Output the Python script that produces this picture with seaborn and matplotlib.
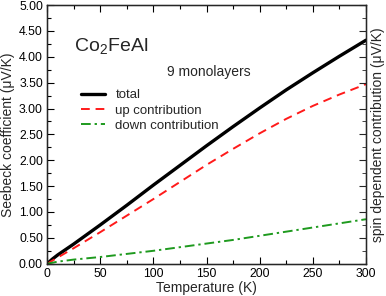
import matplotlib
matplotlib.use('Agg')
import matplotlib.pyplot as plt
import seaborn as sns
import pandas as pd
from matplotlib.ticker import MultipleLocator, FormatStrFormatter

sns.set_style('ticks')
plt.rcParams['font.family'] = ['Liberation Sans', 'DejaVu Sans']
plt.rcParams['mathtext.fontset'] = 'custom'
plt.rcParams['mathtext.rm'] = 'Liberation Sans'

# data
temperature = [0, 5, 10, 25, 50, 75, 100, 125, 150, 175, 200, 225, 250, 275, 300]
total = [0, 0.09, 0.17, 0.38, 0.75, 1.13, 1.52, 1.90, 2.28, 2.65, 3.01, 3.36, 3.69, 4.01, 4.32]
up = [0, 0.06, 0.12, 0.30, 0.61, 0.93, 1.25, 1.58, 1.91, 2.22, 2.52, 2.80, 3.05, 3.27, 3.47]
down = [0, 0.02, 0.04, 0.08, 0.13, 0.19, 0.25, 0.32, 0.39, 0.46, 0.54, 0.62, 0.70, 0.78, 0.86]

df = pd.DataFrame({'T': temperature, 'total': total, 'up': up, 'down': down})

fig = plt.figure(figsize=(3.86, 2.96), dpi=100)
ax = fig.add_axes([0.122, 0.109, 0.826, 0.874])

sns.lineplot(data=df, x='T', y='total', ax=ax, color='black', linewidth=2.4, label='total')
sns.lineplot(data=df, x='T', y='up', ax=ax, color='#ff1a1a', linewidth=1.4,
             label='up contribution')
sns.lineplot(data=df, x='T', y='down', ax=ax, color='#1e9a1e', linewidth=1.4,
             label='down contribution')
ax.lines[1].set_dashes([4.5, 3])
ax.lines[2].set_dashes([5, 2, 1.2, 2])

ax.set_xlim(0, 300)
ax.set_ylim(0, 5)
ax.xaxis.set_major_locator(MultipleLocator(50))
ax.xaxis.set_minor_locator(MultipleLocator(25))
ax.yaxis.set_major_locator(MultipleLocator(0.5))
ax.yaxis.set_minor_locator(MultipleLocator(0.25))
ax.yaxis.set_major_formatter(FormatStrFormatter('%.2f'))
ax.tick_params(which='both', direction='in', top=True, right=True, labelsize=8.8,
               colors='black', pad=3)
ax.tick_params(which='major', length=5, width=0.8)
ax.tick_params(which='minor', length=3, width=0.8)
for s in ax.spines.values():
    s.set_linewidth(1.0)
    s.set_color('black')

ax.set_xlabel('Temperature (K)', fontsize=10, labelpad=1)
ax.set_ylabel('Seebeck coefficient (\u03bcV/K)', fontsize=10, labelpad=3)

ax2 = ax.twinx()
ax2.set_ylim(0, 5)
ax2.yaxis.set_major_locator(MultipleLocator(0.5))
ax2.yaxis.set_minor_locator(MultipleLocator(0.25))
ax2.tick_params(which='both', direction='in', labelright=False)
ax2.tick_params(which='major', length=5)
ax2.tick_params(which='minor', length=3)
ax2.set_ylabel('spin dependent contribution (\u03bcV/K)', fontsize=10, labelpad=4)

ax.text(0.085, 0.84, 'Co$_2$FeAl', transform=ax.transAxes, fontsize=14, va='center')
ax.text(0.375, 0.74, '9 monolayers', transform=ax.transAxes, fontsize=10, va='center')

ax.legend(loc='upper left', bbox_to_anchor=(0.09, 0.695), frameon=False, fontsize=9.5,
          handlelength=1.8, handletextpad=0.8, labelspacing=0.22, borderaxespad=0)

fig.savefig('out.png', dpi=100)
